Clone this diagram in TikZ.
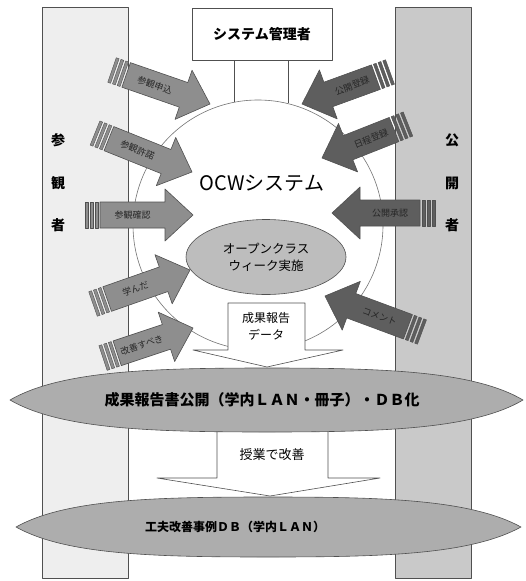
\documentclass[tikz,border=0pt]{standalone}
\usepackage{fontspec}
\newfontfamily\jp{Noto Sans CJK JP}
\usetikzlibrary{calc,shapes.geometric}
\definecolor{colL}{HTML}{EEEEEE}
\definecolor{colR}{HTML}{C9C9C9}
\definecolor{arrL}{HTML}{8E8E8E}
\definecolor{arrR}{HTML}{5E5E5E}
\definecolor{ellG}{HTML}{BDBDBD}
\definecolor{bigG}{HTML}{ADADAD}
\definecolor{lineG}{HTML}{505050}

% #1 tail, #2 tip, #3 fill colour, #4 label, #5 label node name
\newcommand\stripearrow[5]{%
  \coordinate (sa) at ($(#1)!15pt!(#2)$);
  \coordinate (hb) at ($(#2)!28pt!(#1)$);
  \filldraw[fill=#3, draw=lineG, line width=0.6pt]
    ($(sa)!13pt!90:(#2)$) -- ($(hb)!13pt!90:(#2)$) -- ($(hb)!26pt!90:(#2)$) -- (#2)
    -- ($(hb)!26pt!-90:(#2)$) -- ($(hb)!13pt!-90:(#2)$) -- ($(sa)!13pt!-90:(#2)$) -- cycle;
  \foreach \da/\db in {0pt/3pt,5pt/8pt,10pt/13pt}{
    \coordinate (ba) at ($(#1)!\da!(#2)$);
    \coordinate (bb) at ($(#1)!\db!(#2)$);
    \filldraw[fill=#3, draw=lineG, line width=0.4pt]
      ($(ba)!13pt!90:(#2)$) -- ($(bb)!13pt!90:(#2)$) -- ($(bb)!13pt!-90:(#2)$) -- ($(ba)!13pt!-90:(#2)$) -- cycle;
  }
  \path (sa) -- (hb) node[midway, sloped, font=\jp\fontsize{9}{9}\selectfont, text=black!85] (#5) {#4};
}

\begin{document}
\begin{tikzpicture}[x=1pt, y=-1pt, line join=round]
\useasboundingbox (0,0) rectangle (526,581);
\fill[white] (0,0) rectangle (526,581);

% side columns
\node[draw=lineG, fill=colL, minimum width=86pt, minimum height=571pt, inner sep=0pt] (leftcol) at (85,292.5) {};
\node[draw=lineG, fill=colR, minimum width=76pt, minimum height=571pt, inner sep=0pt] (rightcol) at (433,292.5) {};
\tikzset{collabel/.style={font=\jp\bfseries\fontsize{14}{14}\selectfont, inner sep=1pt}}
\node[collabel] (l1) at (58,140) {参};
\node[collabel] (l2) at (58,183) {観};
\node[collabel] (l3) at (58,225) {者};
\node[collabel] (r1) at (452,140) {公};
\node[collabel] (r2) at (452,183) {開};
\node[collabel] (r3) at (452,225) {者};

% system circle
\node[circle, draw=lineG!80, line width=0.6pt, minimum size=250pt, inner sep=0pt] (sys) at (258,225) {};

% admin box
\node[draw=lineG, fill=white, minimum width=140pt, minimum height=52pt, inner sep=0pt,
      font=\jp\bfseries\fontsize{14}{14}\selectfont] (admin) at (262,34) {システム管理者};
\draw[lineG, line width=0.6pt] (sys.101 |- admin.south) -- (sys.101);
\draw[lineG, line width=0.6pt] (sys.76 |- admin.south) -- (sys.76);

\node[font=\jp\fontsize{20}{20}\selectfont] (ocw) at (262,183) {OCWシステム};

\node[ellipse, draw=lineG, fill=ellG, line width=0.6pt, minimum width=160pt, minimum height=75pt,
      inner sep=0pt, align=center, font=\jp\fontsize{12.5}{17}\selectfont] (owk) at (266,257)
      {オープンクラス\\ウィーク実施};

% left arrows
\coordinate (la1) at (112,70);  \coordinate (lb1) at (210,104);
\coordinate (la2) at (95,133);  \coordinate (lb2) at (192,172);
\coordinate (la3) at (85,215);  \coordinate (lb3) at (193,215);
\coordinate (la4) at (93,304);  \coordinate (lb4) at (190,270);
\coordinate (la5) at (103,358); \coordinate (lb5) at (193,328);
\stripearrow{la1}{lb1}{arrL}{参観申込}{t1}
\stripearrow{la2}{lb2}{arrL}{参観許諾}{t2}
\stripearrow{la3}{lb3}{arrL}{参観確認}{t3}
\stripearrow{la4}{lb4}{arrL}{学んだ}{t4}
\stripearrow{la5}{lb5}{arrL}{改善すべき}{t5}

% right arrows
\coordinate (ra1) at (390,72);  \coordinate (rb1) at (302,104);
\coordinate (ra2) at (408,124); \coordinate (rb2) at (322,158);
\coordinate (ra3) at (435,213); \coordinate (rb3) at (332,213);
\coordinate (ra4) at (422,332); \coordinate (rb4) at (325,296);
\stripearrow{ra1}{rb1}{arrR}{公開登録}{u1}
\stripearrow{ra2}{rb2}{arrR}{日程登録}{u2}
\stripearrow{ra3}{rb3}{arrR}{公開承認}{u3}
\stripearrow{ra4}{rb4}{arrR}{コメント}{u4}

% data arrow
\filldraw[fill=white, draw=lineG, line width=0.6pt]
  (228,303) -- (305,303) -- (305,350) -- (343,350) -- (267,367) -- (193,350) -- (228,350) -- cycle;
\node[align=center, font=\jp\fontsize{12}{17}\selectfont] (data) at (266,326) {成果報告\\データ};

% improvement arrow
\filldraw[fill=white, draw=lineG, line width=0.6pt]
  (217,425) -- (328,425) -- (328,478) -- (380,478) -- (270,496) -- (157,478) -- (217,478) -- cycle;
\node[font=\jp\fontsize{13}{13}\selectfont] (kaizen) at (272,455) {授業で改善};

% publication ellipse
\filldraw[fill=bigG, draw=lineG, line width=0.6pt]
  (10,400) .. controls (60,371) and (150,368) .. (267,368)
  .. controls (384,368) and (474,371) .. (523,400)
  .. controls (474,429) and (384,432) .. (267,432)
  .. controls (150,432) and (60,429) .. (10,400) -- cycle;
\node[font=\jp\bfseries\fontsize{15}{15}\selectfont] (pub) at (262,400) {成果報告書公開（学内ＬＡＮ・冊子）・ＤＢ化};

% database ellipse
\filldraw[fill=bigG, draw=lineG, line width=0.6pt]
  (16,527) .. controls (66,499) and (156,497) .. (268,497)
  .. controls (380,497) and (470,499) .. (521,527)
  .. controls (470,555) and (380,557) .. (268,557)
  .. controls (156,557) and (66,555) .. (16,527) -- cycle;
\node[font=\jp\bfseries\fontsize{12}{12}\selectfont] (db) at (235,527) {工夫改善事例ＤＢ（学内ＬＡＮ）};
\end{tikzpicture}
\end{document}
